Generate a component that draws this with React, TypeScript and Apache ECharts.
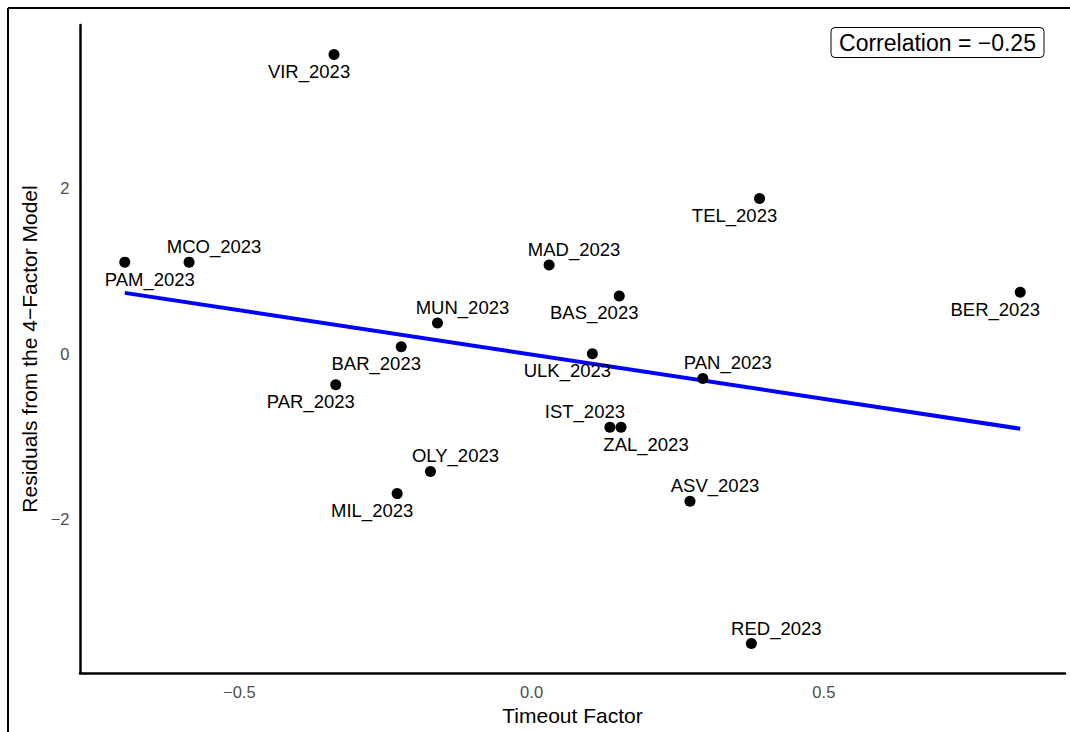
import React, { useEffect, useRef } from "react";
import * as echarts from "echarts";

const teams = [
  "VIR_2023", "TEL_2023", "MCO_2023", "PAM_2023", "MAD_2023", "BAS_2023",
  "BER_2023", "MUN_2023", "BAR_2023", "ULK_2023", "PAN_2023", "PAR_2023",
  "IST_2023", "ZAL_2023", "OLY_2023", "MIL_2023", "ASV_2023", "RED_2023",
];
const timeoutFactor = [
  -0.338, 0.390, -0.586, -0.696, 0.030, 0.150,
  0.836, -0.161, -0.223, 0.104, 0.293, -0.335,
  0.134, 0.153, -0.173, -0.230, 0.271, 0.376,
];
const residuals = [
  3.618, 1.876, 1.108, 1.108, 1.072, 0.699,
  0.743, 0.373, 0.084, 0.0, -0.298, -0.373,
  -0.888, -0.888, -1.422, -1.690, -1.783, -3.502,
];
// label placement relative to point (repel direction): l/r + t/b
const labelSide = [
  "lb", "lb", "rt", "rb", "rt", "lb",
  "lb", "rt", "lb", "lb", "rt", "lb",
  "lt", "rb", "rt", "lb", "rt", "rt",
];
const xTicks = [-0.5, 0, 0.5];
const yTicks = [-2, 0, 2];
const xTitle = "Timeout Factor";
const yTitle = "Residuals from the 4\u2212Factor Model";

const FONT = "'Liberation Sans', Arial, Helvetica, sans-serif";
const fmt = (v: number, d: number) => v.toFixed(d).replace("-", "\u2212");
const SYM = 11;

export default function App() {
  const ref = useRef<HTMLDivElement>(null);
  useEffect(() => {
    if (!ref.current) return;
    const chart = echarts.init(ref.current, null, { renderer: "svg" });
    const n = timeoutFactor.length;
    const mx = timeoutFactor.reduce((a, b) => a + b, 0) / n;
    const my = residuals.reduce((a, b) => a + b, 0) / n;
    let sxy = 0, sxx = 0, syy = 0;
    for (let i = 0; i < n; i++) {
      sxy += (timeoutFactor[i] - mx) * (residuals[i] - my);
      sxx += (timeoutFactor[i] - mx) ** 2;
      syy += (residuals[i] - my) ** 2;
    }
    const slope = sxy / sxx;
    const intercept = my - slope * mx;
    const r = sxy / Math.sqrt(sxx * syy);
    const xMin = Math.min(...timeoutFactor), xMax = Math.max(...timeoutFactor);
    const yMin = Math.min(...residuals), yMax = Math.max(...residuals);
    const xPad = (xMax - xMin) * 0.05, yPad = (yMax - yMin) * 0.05;

    const scatterData = teams.map((t, i) => {
      const s = labelSide[i];
      const dx = s[0] === "l" ? -25 : 25;
      const dy = s[1] === "b" ? 17 : -15.5;
      return {
        name: t,
        value: [timeoutFactor[i], residuals[i]],
        label: {
          show: true,
          position: [SYM / 2 + dx, SYM / 2 + dy],
          align: "center",
          verticalAlign: "middle",
        },
      };
    });

    chart.setOption({
      animation: false,
      backgroundColor: "#ffffff",
      grid: { left: 80, right: 5, top: 25, bottom: 59, containLabel: false },
      xAxis: {
        type: "value",
        min: xMin - xPad,
        max: xMax + xPad,
        name: xTitle,
        nameLocation: "middle",
        nameGap: 30.5,
        nameTextStyle: { color: "#000", fontSize: 21, fontFamily: FONT },
        axisLine: { show: true, onZero: false, lineStyle: { color: "#000", width: 2.5 } },
        axisTick: { show: false },
        splitLine: { show: false },
        axisLabel: {
          customValues: xTicks,
          formatter: (v: number) => fmt(v, 1),
          color: "#4d4d4d",
          fontSize: 16.5,
          fontFamily: FONT,
          margin: 10,
        },
      },
      yAxis: {
        type: "value",
        min: yMin - yPad,
        max: yMax + yPad,
        name: yTitle,
        nameLocation: "middle",
        nameRotate: 90,
        nameGap: 36,
        nameTextStyle: { color: "#000", fontSize: 21, fontFamily: FONT },
        axisLine: { show: true, onZero: false, lineStyle: { color: "#000", width: 2.5 } },
        axisTick: { show: false },
        splitLine: { show: false },
        axisLabel: {
          customValues: yTicks,
          formatter: (v: number) => fmt(v, 0),
          color: "#4d4d4d",
          fontSize: 16.5,
          fontFamily: FONT,
          margin: 10.5,
        },
      },
      series: [
        {
          type: "line",
          data: [
            [xMin, intercept + slope * xMin],
            [xMax, intercept + slope * xMax],
          ],
          symbol: "none",
          lineStyle: { color: "#0000ff", width: 4 },
          z: 2,
          silent: true,
        },
        {
          type: "scatter",
          data: scatterData,
          symbolSize: SYM,
          itemStyle: { color: "#000", opacity: 1 },
          z: 3,
          label: {
            show: true,
            formatter: (p: any) => p.name,
            color: "#000",
            fontSize: 18.5,
            fontFamily: FONT,
            align: "center",
            verticalAlign: "middle",
          },
          labelLayout: { hideOverlap: false },
        },
      ],
      graphic: [
        {
          type: "line",
          shape: { x1: 8, y1: 8, x2: 1070, y2: 8 },
          style: { stroke: "#000", lineWidth: 2 },
        },
        {
          type: "line",
          shape: { x1: 8, y1: 8, x2: 8, y2: 732 },
          style: { stroke: "#000", lineWidth: 2 },
        },
        {
          type: "rect",
          shape: { x: 831, y: 27.5, width: 213, height: 30, r: 4 },
          style: { fill: "#fff", stroke: "#000", lineWidth: 1 },
          z: 10,
        },
        {
          type: "text",
          x: 937.5,
          y: 43,
          z: 11,
          style: {
            text: "Correlation = " + fmt(r, 2),
            fill: "#000",
            fontSize: 23,
            fontFamily: FONT,
            align: "center",
            verticalAlign: "middle",
          },
        },
      ],
    });
    return () => chart.dispose();
  }, []);
  return (
    <div
      ref={ref}
      style={{ position: "fixed", left: 0, top: 0, width: 1070, height: 732, background: "#fff" }}
    />
  );
}
